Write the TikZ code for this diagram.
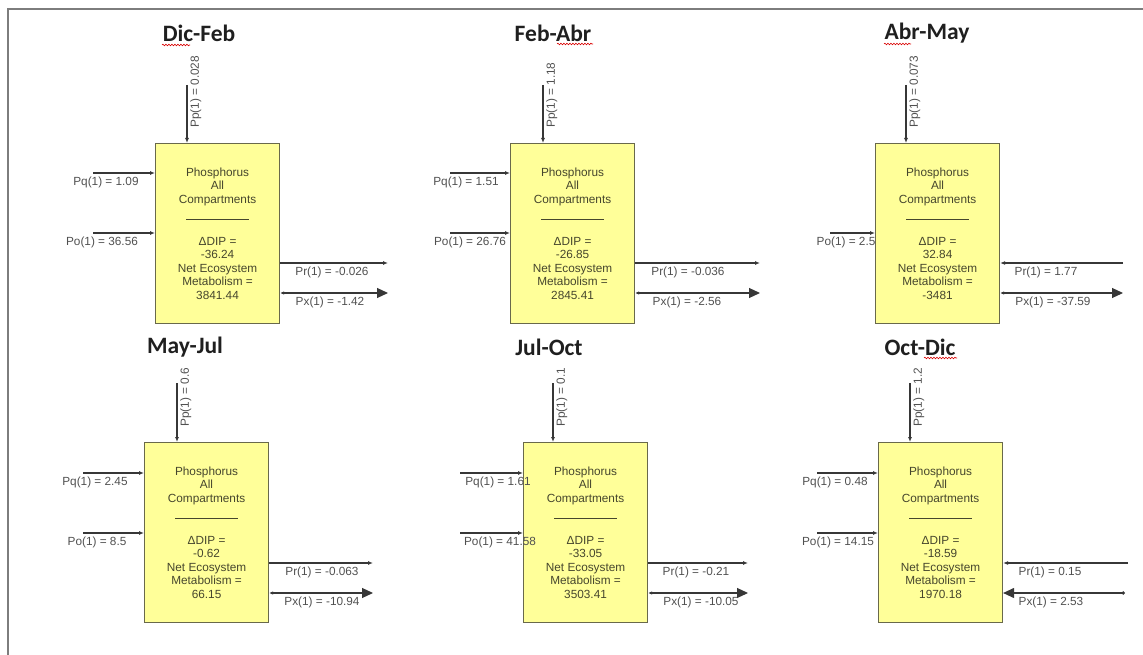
\documentclass[tikz,border=0pt]{standalone}
\usepackage{fontspec}
\setmainfont{Liberation Sans}
\newfontfamily\titlefont{Carlito}
\usetikzlibrary{arrows.meta,decorations.pathmorphing,calc}
\definecolor{boxfill}{RGB}{255,255,153}
\definecolor{boxline}{RGB}{105,105,75}
\definecolor{boxtxtc}{RGB}{70,70,45}
\definecolor{lbl}{RGB}{80,80,80}
\definecolor{flow}{RGB}{55,55,55}
\definecolor{framec}{RGB}{125,125,125}
\tikzset{
 compbox/.style={draw=boxline, fill=boxfill, line width=1.1bp, minimum width=124bp, minimum height=180bp, inner sep=0pt, anchor=north west},
 boxtxt/.style={align=center, font=\fontsize{11.8bp}{13.5bp}\selectfont, text=boxtxtc, inner sep=0pt},
 lab/.style={font=\fontsize{11.8bp}{13bp}\selectfont, text=lbl, inner sep=0pt},
 ttl/.style={font=\titlefont\bfseries\fontsize{23.5bp}{27bp}\selectfont, text=black!88, inner sep=0pt},
 flowline/.style={draw=flow, line width=1.1bp},
 inarrow/.style={flowline, -{Latex[length=5bp,width=4bp]}},
 pxout/.style={flowline, {Latex[length=4bp,width=3.5bp]}-{Triangle[length=11bp,width=10bp]}},
 pxin/.style={flowline, {Circle[length=3.5bp]}-{Triangle[length=11bp,width=10bp]}},
 sepline/.style={draw=boxtxtc, line width=0.8bp},
 squig/.style={draw=red!85!black, line width=0.6bp, decorate, decoration={snake, amplitude=0.8bp, segment length=3bp}},
 framel/.style={draw=framec, line width=2bp}
}
\newcommand\mkcomp[5]{%
 \node[compbox] (#1) at (#2,#3) {};
 \node[boxtxt] (#1h) at ($(#1.north)+(0,43.5)$) {Phosphorus\\All\\Compartments};
 \draw[sepline] ($(#1.north)+(-31.5,76)$) -- ($(#1.north)+(31.5,76)$);
 \node[boxtxt] (#1v) at ($(#1.north)+(0,125)$) {ΔDIP =\\#4\\Net Ecosystem\\Metabolism =\\#5};
}
\begin{document}
\begin{tikzpicture}[x=1bp,y=-1bp]
\useasboundingbox (0,0) rectangle (1143,655);
\draw[framel] (8,655) -- (8,9) -- (1143,9);

% ---------- Dic-Feb ----------
\node[ttl] (t1) at (199,33) {Dic-Feb};
\draw[squig] (162,45) -- (190,45);
\mkcomp{b1}{155}{143}{-36.24}{3841.44}
\coordinate (b1p) at (187,85);
\draw[inarrow] (b1p) -- (b1p |- b1.north);
\node[lab, rotate=90, anchor=north west] (l1p) at (190,128) {Pp(1) = 0.028};
\coordinate (b1q) at (93,173);
\draw[inarrow] (b1q) -- (b1q -| b1.west);
\node[lab, anchor=north] (l1q) at (106,177) {Pq(1) = 1.09};
\coordinate (b1o) at (93,233);
\draw[inarrow] (b1o) -- (b1o -| b1.west);
\node[lab, anchor=north] (l1o) at (102,237) {Po(1) = 36.56};
\coordinate (b1r) at (388,263);
\draw[inarrow] (b1r -| b1.east) -- (b1r);
\node[lab, anchor=north] (l1r) at (332,267) {Pr(1) = -0.026};
\coordinate (b1x) at (388,293);
\draw[pxout] (b1x -| b1.east) -- (b1x);
\node[lab, anchor=north] (l1x) at (330,297) {Px(1) = -1.42};

% ---------- Feb-Abr ----------
\node[ttl] (t2) at (553,33) {Feb-Abr};
\draw[squig] (557,44) -- (593,44);
\mkcomp{b2}{510}{143}{-26.85}{2845.41}
\coordinate (b2p) at (543,85);
\draw[inarrow] (b2p) -- (b2p |- b2.north);
\node[lab, rotate=90, anchor=north west] (l2p) at (546,128) {Pp(1) = 1.18};
\coordinate (b2q) at (450,173);
\draw[inarrow] (b2q) -- (b2q -| b2.west);
\node[lab, anchor=north] (l2q) at (466,177) {Pq(1) = 1.51};
\coordinate (b2o) at (450,233);
\draw[inarrow] (b2o) -- (b2o -| b2.west);
\node[lab, anchor=north] (l2o) at (470,237) {Po(1) = 26.76};
\coordinate (b2r) at (760,263);
\draw[inarrow] (b2r -| b2.east) -- (b2r);
\node[lab, anchor=north] (l2r) at (688,267) {Pr(1) = -0.036};
\coordinate (b2x) at (760,293);
\draw[pxout] (b2x -| b2.east) -- (b2x);
\node[lab, anchor=north] (l2x) at (687,297) {Px(1) = -2.56};

% ---------- Abr-May ----------
\node[ttl] (t3) at (927,33) {Abr-May};
\draw[squig] (884,44) -- (911,44);
\mkcomp{b3}{875}{143}{32.84}{-3481}
\coordinate (b3p) at (906,85);
\draw[inarrow] (b3p) -- (b3p |- b3.north);
\node[lab, rotate=90, anchor=north west] (l3p) at (909,128) {Pp(1) = 0.073};
\coordinate (b3o) at (830,233);
\draw[inarrow] (b3o) -- (b3o -| b3.west);
\node[lab, anchor=north] (l3o) at (846,237) {Po(1) = 2.5};
\coordinate (b3r) at (1123,263);
\draw[inarrow] (b3r) -- (b3r -| b3.east);
\node[lab, anchor=north] (l3r) at (1046,267) {Pr(1) = 1.77};
\coordinate (b3x) at (1123,293);
\draw[pxout] (b3x -| b3.east) -- (b3x);
\node[lab, anchor=north] (l3x) at (1053,297) {Px(1) = -37.59};

% ---------- May-Jul ----------
\node[ttl] (t4) at (185,347) {May-Jul};
\mkcomp{b4}{144}{442}{-0.62}{66.15}
\coordinate (b4p) at (177,383);
\draw[inarrow] (b4p) -- (b4p |- b4.north);
\node[lab, rotate=90, anchor=north west] (l4p) at (180,427) {Pp(1) = 0.6};
\coordinate (b4q) at (83,473);
\draw[inarrow] (b4q) -- (b4q -| b4.west);
\node[lab, anchor=north] (l4q) at (95,477) {Pq(1) = 2.45};
\coordinate (b4o) at (83,533);
\draw[inarrow] (b4o) -- (b4o -| b4.west);
\node[lab, anchor=north] (l4o) at (97,537) {Po(1) = 8.5};
\coordinate (b4r) at (373,563);
\draw[inarrow] (b4r -| b4.east) -- (b4r);
\node[lab, anchor=north] (l4r) at (322,567) {Pr(1) = -0.063};
\coordinate (b4x) at (373,593);
\draw[pxout] (b4x -| b4.east) -- (b4x);
\node[lab, anchor=north] (l4x) at (322,597) {Px(1) = -10.94};

% ---------- Jul-Oct ----------
\node[ttl] (t5) at (549,347) {Jul-Oct};
\mkcomp{b5}{523}{442}{-33.05}{3503.41}
\coordinate (b5p) at (553,383);
\draw[inarrow] (b5p) -- (b5p |- b5.north);
\node[lab, rotate=90, anchor=north west] (l5p) at (556,427) {Pp(1) = 0.1};
\coordinate (b5q) at (460,473);
\draw[inarrow] (b5q) -- (b5q -| b5.west);
\node[lab, anchor=north] (l5q) at (498,477) {Pq(1) = 1.61};
\coordinate (b5o) at (460,533);
\draw[inarrow] (b5o) -- (b5o -| b5.west);
\node[lab, anchor=north] (l5o) at (500,537) {Po(1) = 41.58};
\coordinate (b5r) at (748,563);
\draw[inarrow] (b5r -| b5.east) -- (b5r);
\node[lab, anchor=north] (l5r) at (696,567) {Pr(1) = -0.21};
\coordinate (b5x) at (748,593);
\draw[pxout] (b5x -| b5.east) -- (b5x);
\node[lab, anchor=north] (l5x) at (701,597) {Px(1) = -10.05};

% ---------- Oct-Dic ----------
\node[ttl] (t6) at (920,347) {Oct-Dic};
\draw[squig] (924,358) -- (957,358);
\mkcomp{b6}{878}{442}{-18.59}{1970.18}
\coordinate (b6p) at (910,383);
\draw[inarrow] (b6p) -- (b6p |- b6.north);
\node[lab, rotate=90, anchor=north west] (l6p) at (913,427) {Pp(1) = 1.2};
\coordinate (b6q) at (817,473);
\draw[inarrow] (b6q) -- (b6q -| b6.west);
\node[lab, anchor=north] (l6q) at (835,477) {Pq(1) = 0.48};
\coordinate (b6o) at (817,533);
\draw[inarrow] (b6o) -- (b6o -| b6.west);
\node[lab, anchor=north] (l6o) at (838,537) {Po(1) = 14.15};
\coordinate (b6r) at (1128,563);
\draw[inarrow] (b6r) -- (b6r -| b6.east);
\node[lab, anchor=north] (l6r) at (1050,567) {Pr(1) = 0.15};
\coordinate (b6x) at (1125,593);
\draw[pxin] (b6x) -- (b6x -| b6.east);
\node[lab, anchor=north] (l6x) at (1051,597) {Px(1) = 2.53};
\end{tikzpicture}
\end{document}
